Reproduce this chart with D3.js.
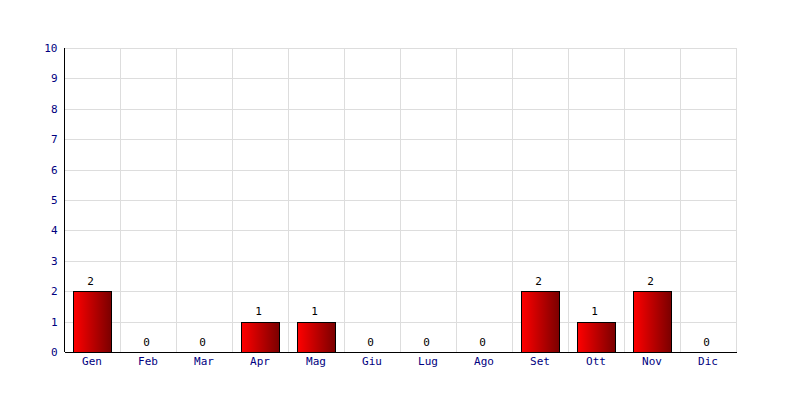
<!DOCTYPE html>
<html><head><meta charset="utf-8">
<script src="https://cdn.jsdelivr.net/npm/d3@7"></script>
<style>body{margin:0;background:#fff}svg{display:block}</style>
</head><body>
<script>
const categories = ["Gen","Feb","Mar","Apr","Mag","Giu","Lug","Ago","Set","Ott","Nov","Dic"];
const values = [2,0,0,1,1,0,0,0,2,1,2,0];
const yTicks = [0,1,2,3,4,5,6,7,8,9,10];

(function(){
const W = 800, H = 400;
const mL = 65, mR = 737, mT = 48, mB = 352;
const svg = d3.select("body").append("svg").attr("width", W).attr("height", H);

const defs = svg.append("defs");
const g = defs.append("linearGradient").attr("id","barGrad").attr("x1","0").attr("x2","1").attr("y1","0").attr("y2","0");
g.append("stop").attr("offset","0%").attr("stop-color","#ff0000");
g.append("stop").attr("offset","100%").attr("stop-color","#7a0000");

const x = d3.scaleBand().domain(categories).range([mL, mR]).paddingInner(0).paddingOuter(0);
const y = d3.scaleLinear().domain([0, 10]).range([mB, mT]);

const font = "'DejaVu Sans Mono', monospace";

// grid
svg.append("g").selectAll("line").data(yTicks.filter(d => d > 0)).join("line")
  .attr("x1", mL).attr("x2", mR)
  .attr("y1", d => Math.round(y(d)) + 0.5).attr("y2", d => Math.round(y(d)) + 0.5)
  .attr("stroke", "#dddddd").attr("stroke-width", 1);
svg.append("g").selectAll("line").data(categories).join("line")
  .attr("x1", d => Math.round(x(d) + x.bandwidth()) - 0.5)
  .attr("x2", d => Math.round(x(d) + x.bandwidth()) - 0.5)
  .attr("y1", mT).attr("y2", mB)
  .attr("stroke", "#dddddd").attr("stroke-width", 1);

const data = values.map((v,i)=>({c:categories[i],v}));
// bars
const barW = 38, off = 8;
svg.append("g").selectAll("rect").data(data.filter(d => d.v > 0)).join("rect")
  .attr("x", d => Math.round(x(d.c) + off) + 0.5)
  .attr("y", d => Math.round(y(d.v)) + 0.5)
  .attr("width", barW)
  .attr("height", d => Math.round(y(0)) - Math.round(y(d.v)))
  .attr("fill", "url(#barGrad)")
  .attr("stroke", "#000").attr("stroke-width", 1);

// value labels
svg.append("g").selectAll("text").data(data).join("text")
  .attr("x", d => x(d.c) + off + barW/2 - 1.5)
  .attr("y", d => y(d.v) - 10)
  .attr("dy", "0.35em")
  .attr("text-anchor", "middle")
  .attr("font-family", font).attr("font-size", 11).attr("fill", "#000")
  .text(d => d.v);

// axes
const yAxis = d3.axisLeft(y).tickValues(yTicks).tickSize(0).tickPadding(7).tickFormat(d3.format("d"));
const ya = svg.append("g").attr("transform", `translate(${mL - 0.5},0)`).call(yAxis);
ya.select(".domain").attr("stroke", "#000").attr("d", `M0,${mT}V${mB}`);
ya.selectAll("text").attr("font-family", font).attr("font-size", 11).attr("fill", "#000080");

const xAxis = d3.axisBottom(x).tickSize(0).tickPadding(5);
const xa = svg.append("g").attr("transform", `translate(-1,${mB + 0.5})`).call(xAxis);
xa.select(".domain").attr("stroke", "#000").attr("d", `M${mL + 1},0H${mR + 1}`);
xa.selectAll("text").attr("font-family", font).attr("font-size", 11).attr("fill", "#000080");
})();
</script>
</body></html>
